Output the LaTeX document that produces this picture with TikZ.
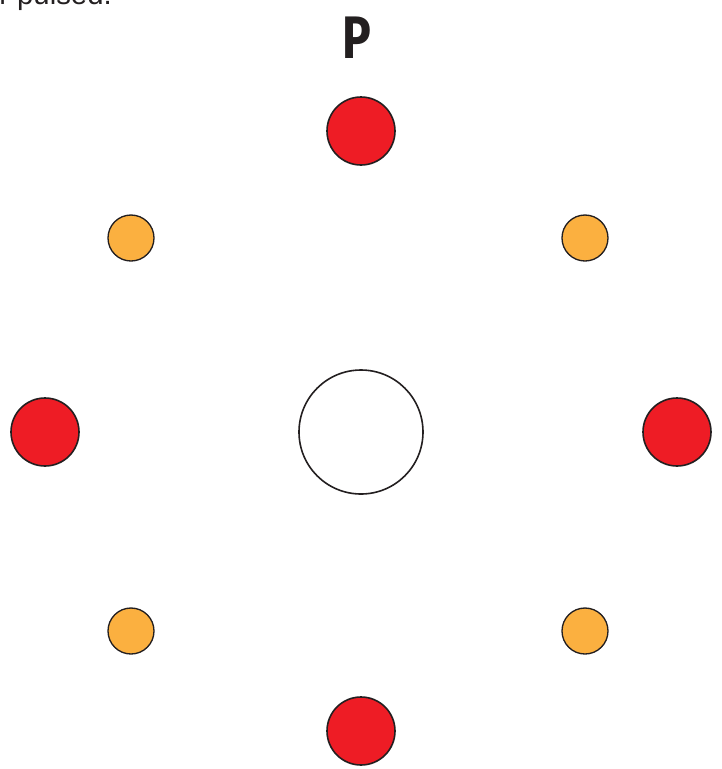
\documentclass[tikz,border=0pt]{standalone}
\usepackage{fontspec}
\setmainfont{Liberation Sans}
\newfontfamily\pfont{Fira Sans}
\definecolor{ink}{HTML}{231F20}
\definecolor{redc}{HTML}{EE1C25}
\definecolor{orc}{HTML}{FBB040}
\begin{document}
\begin{tikzpicture}[x=0.75pt,y=-0.75pt,
  bigdot/.style={circle,draw=ink,line width=1.2pt,fill=redc,minimum size=51pt,inner sep=0pt},
  smalldot/.style={circle,draw=ink,line width=1pt,fill=orc,minimum size=34.5pt,inner sep=0pt},
  centre/.style={circle,draw=ink,line width=1.2pt,fill=white,minimum size=93pt,inner sep=0pt}]
\useasboundingbox (0,0) rectangle (722,769);
\begin{scope}
\clip (0,0) rectangle (722,769);
\node[anchor=base west,inner sep=0pt,text=ink,font=\fontsize{22}{26}\selectfont] (cap) at (-1,4) {r pulsed.};
\end{scope}
\node[inner sep=0pt,text=ink,font=\pfont\bfseries\fontsize{45}{50}\selectfont,xscale=0.8,anchor=base] (P) at (357,58) {P};
\node[bigdot] (t) at (361,131) {};
\node[bigdot] (l) at (45,432) {};
\node[bigdot] (r) at (677,432) {};
\node[bigdot] (b) at (361,731) {};
\node[smalldot] (tl) at (131,238) {};
\node[smalldot] (tr) at (585,238) {};
\node[smalldot] (bl) at (131,631) {};
\node[smalldot] (br) at (585,631) {};
\node[centre] (c) at (361,432) {};
\end{tikzpicture}
\end{document}
